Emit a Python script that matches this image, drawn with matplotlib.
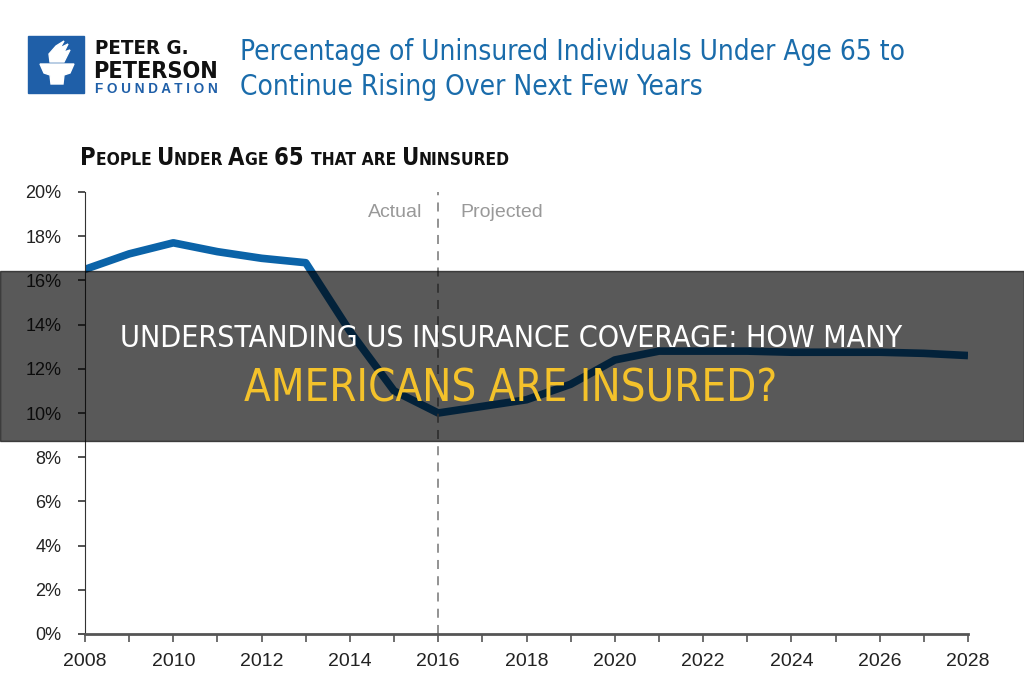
# python3

import matplotlib
matplotlib.use('Agg')
import matplotlib.pyplot as plt
from matplotlib import font_manager
from matplotlib.patches import Rectangle, Polygon

years = list(range(2008, 2029))
uninsured = [16.5, 17.2, 17.7, 17.3, 17.0, 16.8, 13.7, 11.0, 10.0, 10.3, 10.6,
             11.3, 12.4, 12.8, 12.8, 12.8, 12.75, 12.75, 12.75, 12.7, 12.6]
split_year = 2016
y_ticks = [0, 2, 4, 6, 8, 10, 12, 14, 16, 18, 20]
x_labels = list(range(2008, 2029, 2))

plt.rcParams['font.family'] = ['Liberation Sans', 'DejaVu Sans']

# use a condensed face if one is installed, else the narrowest regular one
cond_path = font_manager.findfont(font_manager.FontProperties(family='DejaVu Sans', stretch='condensed'))
if 'Condensed' in cond_path:
    narrow = dict(family=['DejaVu Sans'], fontstretch='condensed')
else:
    narrow = dict(family=['Liberation Sans', 'DejaVu Sans'])

blue = '#0b63a8'
title_blue = '#1a6cab'
W, H = 1024, 680

fig = plt.figure(figsize=(10.24, 6.8), dpi=100)
renderer = fig.canvas.get_renderer()


def fit_text(x, y, s, width, size=20, **kw):
    # place text at pixel position and scale its size to span `width` pixels
    t = fig.text(x / W, 1 - y / H, s, fontsize=size, **kw)
    w = t.get_window_extent(renderer).width
    t.set_fontsize(size * width / w)
    return t


ax = fig.add_axes([85 / W, 1 - 634 / H, 883 / W, 442 / H])

ax.plot(years, uninsured, color=blue, lw=5.5, solid_capstyle='butt', solid_joinstyle='round')
ax.axvline(split_year, color='#8a8a8a', lw=1.3, ls=(0, (5, 4)))

ax.set_xlim(2008, 2028)
ax.set_ylim(0, 20)
ax.set_yticks(y_ticks)
ax.set_yticklabels([f'{v}%' for v in y_ticks], fontsize=13, color='#222222')
ax.set_xticks(years, minor=True)
ax.set_xticks(x_labels)
ax.set_xticklabels([str(v) for v in x_labels], fontsize=14, color='#222222')
for s in ['top', 'right']:
    ax.spines[s].set_visible(False)
ax.spines['left'].set_color('#333333')
ax.spines['bottom'].set_color('#555555')
ax.spines['bottom'].set_linewidth(2)
ax.tick_params(axis='y', length=5, width=1.2, color='#333333', pad=12)
ax.tick_params(axis='x', which='both', length=6, width=1.2, color='#555555', pad=8)

ax.text(2015.65, 19.05, 'Actual', ha='right', va='center', fontsize=14, color='#999999')
ax.text(2016.5, 19.05, 'Projected', ha='left', va='center', fontsize=14, color='#999999')

# logo
fig.patches.append(Rectangle((28 / W, 1 - 93 / H), 56 / W, 57 / H,
                             transform=fig.transFigure, color='#1f5fa8'))
torch = [(40, 64), (74, 64), (70, 73), (64, 75), (63, 84), (51, 84), (50, 75), (44, 73)]
fig.patches.append(Polygon([(x / W, 1 - y / H) for x, y in torch], closed=True,
                           transform=fig.transFigure, color='white'))
flame = [(50, 62), (49, 54), (56, 46), (64, 41), (60, 48), (68, 44), (64, 52), (70, 50), (64, 62)]
fig.patches.append(Polygon([(x / W, 1 - y / H) for x, y in flame], closed=True,
                           transform=fig.transFigure, color='white'))
fit_text(95, 54, 'PETER G.', 93, fontweight='bold', color='#111111', **narrow)
fit_text(93, 78, 'PETERSON', 125, fontweight='bold', color='#111111', **narrow)
fit_text(95, 93, 'F O U N D A T I O N', 123, fontweight='bold', color='#1f5fa8')

# title
t1 = fit_text(240, 60, 'Percentage of Uninsured Individuals Under Age 65 to', 665,
              color=title_blue, fontweight='medium', **narrow)
fig.text(240 / W, 1 - 95 / H, 'Continue Rising Over Next Few Years', fontweight='medium',
         fontsize=t1.get_fontsize(), color=title_blue, **narrow)

# subtitle in small caps
pieces = [('P', 17), ('EOPLE ', 12.5), ('U', 17), ('NDER ', 12.5), ('A', 17), ('GE ', 12.5),
          ('65 ', 17), ('THAT ARE ', 12.5), ('U', 17), ('NINSURED', 12.5)]
x = 80
for txt, size in pieces:
    t = fig.text(x / W, 1 - 165 / H, txt, fontsize=size, fontweight='bold',
                 color='#111111', va='baseline', **narrow)
    x += t.get_window_extent(renderer).width

# overlay band
fig.patches.append(Rectangle((0, 1 - 441 / H), 1, 170 / H, transform=fig.transFigure,
                             color='black', alpha=0.65, zorder=5))
fit_text(120, 347, 'UNDERSTANDING US INSURANCE COVERAGE: HOW MANY', 783,
         color='white', va='baseline', zorder=6, **narrow)
fit_text(244, 401, 'AMERICANS ARE INSURED?', 534,
         color='#f4c22b', va='baseline', zorder=6, **narrow)

fig.savefig('out.png', dpi=100)
